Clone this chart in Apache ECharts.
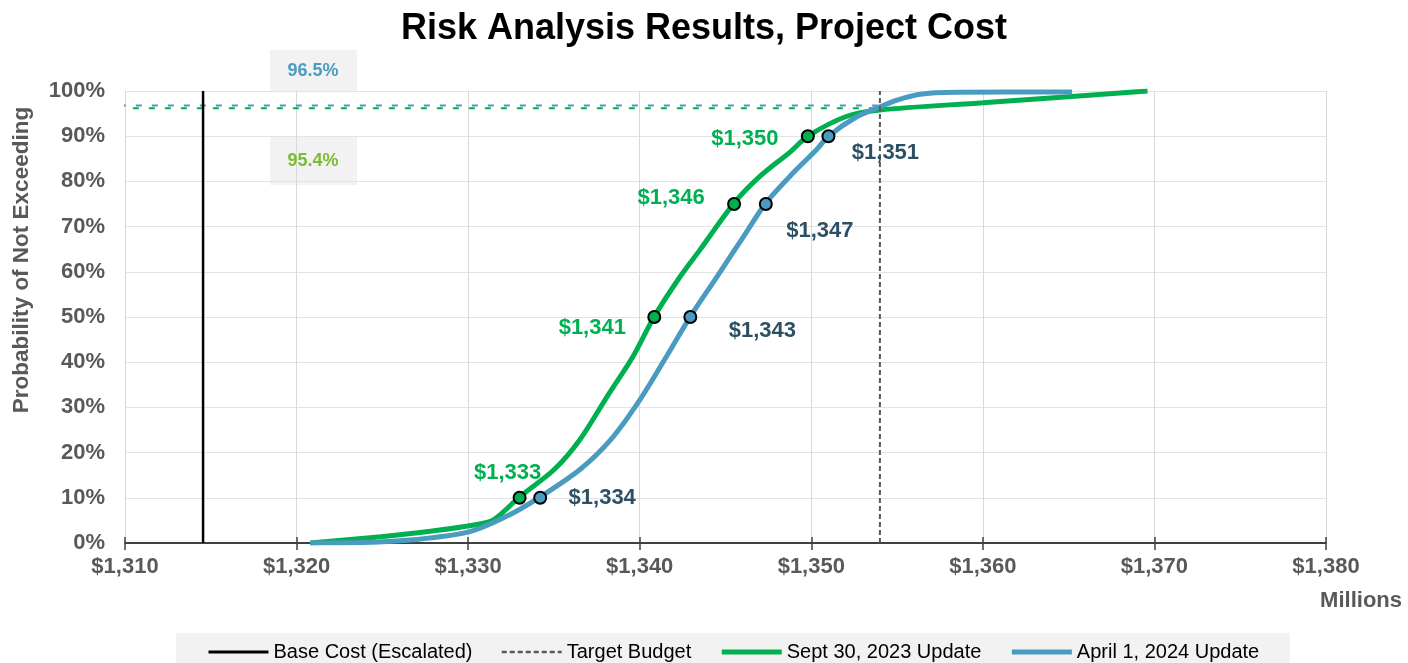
<!DOCTYPE html>
<html lang="en">
<head>
<meta charset="utf-8">
<title>Risk Analysis Results, Project Cost</title>
<script src="https://cdn.jsdelivr.net/npm/echarts@6/dist/echarts.min.js"></script>
<style>
  html, body { margin: 0; padding: 0; background: #fff; }
  #chart { width: 1408px; height: 663px; }
</style>
</head>
<body>
<div id="chart"></div>
<script>
// ---- data ----
var xTicks = [1310, 1320, 1330, 1340, 1350, 1360, 1370, 1380];

var baseCost = 1314.55;
var baseCostLabel = '$1,314';
var targetBudget = 1354;
var targetLabel = '$1,354';

// Sept 30, 2023 update (green)
var septCost = [1320.8, 1324.9, 1327.8, 1330.5, 1331.5, 1333.0, 1335.0, 1336.5, 1338.1, 1339.6,
                1340.85, 1342.35, 1343.5, 1345.5, 1347.0, 1348.8, 1349.8, 1352.0, 1354.0, 1360.0, 1369.6];
var septProb = [0, 1.4, 2.6, 4.1, 5.2, 10.2, 16.2, 22.8, 32.4, 41.2,
                50.1, 58.9, 64.8, 75.2, 81.1, 86.6, 90.0, 94.3, 95.8, 97.4, 100];

// April 1, 2024 update (blue)
var aprCost = [1320.8, 1323.9, 1326.8, 1330.1, 1332.4, 1334.2, 1336.5, 1338.3, 1340.0, 1341.55, 1342.95,
               1344.5, 1346.05, 1347.35, 1348.95, 1350.3, 1351.0, 1352.65, 1354.0, 1355.0, 1356.35, 1358.5, 1365.2];
var aprProb = [0, 0.1, 0.7, 2.5, 6.2, 10.2, 16.2, 22.8, 31.6, 41.2, 50.1,
               58.9, 67.8, 75.2, 81.9, 87.0, 90.0, 94.3, 96.5, 98.0, 99.3, 99.7, 99.8];

// percentile markers
var markerProb = [10, 50, 75, 90];
var septMarkCost = [1333.0, 1340.85, 1345.5, 1349.8];
var septMarkLabel = ['$1,333', '$1,341', '$1,346', '$1,350'];
var aprMarkCost = [1334.2, 1342.95, 1347.35, 1351.0];
var aprMarkLabel = ['$1,334', '$1,343', '$1,347', '$1,351'];

// probability at target budget
var aprAtTarget = 96.8, aprAtTargetText = '96.5%';
var septAtTarget = 96.2, septAtTargetText = '95.4%';

// ---- layout (label offsets in px) ----
var septLabelOffsets = [[-12, -25], [-62, 11], [-63, -6], [-63, 3]];
var aprLabelOffsets = [[62, 0], [72, 14], [54, 27], [57, 17]];

var GREEN = '#00b050';
var BLUE = '#4a9bc0';
var FONT = '"Liberation Sans", Arial, sans-serif';
var CLEAR = 'rgba(0,0,0,0)';

function pairs(xs, ys) {
  return xs.map(function (x, i) { return [x, ys[i]]; });
}
function money(v) {
  return '$' + String(v).replace(/\B(?=(\d{3})+(?!\d))/g, ',');
}
function markerData(costs, labels, offsets) {
  return costs.map(function (c, i) {
    return {
      value: [c, markerProb[i]],
      label: { formatter: labels[i], offset: offsets[i] }
    };
  });
}

var chart = echarts.init(document.getElementById('chart'));

chart.setOption({
  animation: false,
  textStyle: { fontFamily: FONT },
  title: {
    text: 'Risk Analysis Results, Project Cost',
    left: 'center',
    top: 6,
    textStyle: { fontSize: 36, fontWeight: 'bold', color: '#000', fontFamily: FONT }
  },
  grid: { left: 125, right: 82, top: 91, bottom: 120, outerBoundsMode: 'none', containLabel: false },
  legend: {
    data: [
      { name: 'Base Cost (Escalated)', lineStyle: { width: 3 } },
      { name: 'Target Budget', lineStyle: { width: 2.5 } },
      { name: 'Sept 30, 2023 Update', lineStyle: { width: 5 } },
      { name: 'April 1, 2024 Update', lineStyle: { width: 5 } }
    ],
    left: 202,
    top: 637,
    itemWidth: 60,
    itemHeight: 14,
    itemGap: 28,
    itemStyle: { color: CLEAR, borderColor: CLEAR, borderWidth: 0 },
    textStyle: { fontSize: 20, color: '#000', fontFamily: FONT }
  },
  xAxis: [{
    type: 'value',
    min: xTicks[0],
    max: xTicks[xTicks.length - 1],
    interval: 10,
    axisLine: { onZero: false, lineStyle: { color: '#404040', width: 2 } },
    axisTick: { show: true, length: 7, lineStyle: { color: '#404040', width: 1.5 } },
    axisLabel: {
      formatter: money, margin: 13,
      fontSize: 22, fontWeight: 'bold', color: '#595959', fontFamily: FONT
    },
    splitLine: { show: true, lineStyle: { color: '#d9d9d9', width: 1 } }
  }, {
    type: 'value',
    position: 'bottom',
    min: xTicks[0],
    max: xTicks[xTicks.length - 1],
    interval: 10,
    axisLine: { show: false, onZero: false },
    axisTick: { show: true, inside: true, length: 6, lineStyle: { color: '#404040', width: 1.5 } },
    axisLabel: { show: false },
    splitLine: { show: false }
  }],
  yAxis: {
    type: 'value',
    min: 0,
    max: 100,
    interval: 10,
    axisLine: { show: false },
    axisTick: { show: false },
    axisLabel: {
      formatter: '{value}%', margin: 20,
      fontSize: 22, fontWeight: 'bold', color: '#595959', fontFamily: FONT
    },
    splitLine: { lineStyle: { color: '#e3e3e3', width: 1 } }
  },
  series: [
    {
      name: 'Base Cost (Escalated)',
      type: 'line',
      symbol: 'none',
      z: 3,
      lineStyle: { color: '#000', width: 2.5 },
      itemStyle: { color: '#000' },
      data: [[baseCost, 0], {
        value: [baseCost, 100],
        label: {
          show: true, position: 'top', distance: 7, formatter: baseCostLabel,
          fontSize: 22, fontWeight: 'bold', color: '#404040', fontFamily: FONT
        }
      }]
    },
    {
      name: 'Target Budget',
      type: 'line',
      symbol: 'none',
      z: 6,
      lineStyle: { color: '#595959', width: 2, type: [5, 3] },
      itemStyle: { color: '#595959' },
      data: [[targetBudget, 0], {
        value: [targetBudget, 100],
        label: {
          show: true, position: 'top', distance: 7, formatter: targetLabel,
          fontSize: 22, fontWeight: 'bold', color: '#595959', fontFamily: FONT
        }
      }]
    },
    {
      name: 'aprTargetLine',
      type: 'line',
      symbol: 'none',
      z: 2,
      lineStyle: { color: BLUE, width: 2, type: [6, 10], dashOffset: 0 },
      data: [[xTicks[0] - 0.3, aprAtTarget], [targetBudget, aprAtTarget]]
    },
    {
      name: 'septTargetLine',
      type: 'line',
      symbol: 'none',
      z: 2,
      lineStyle: { color: GREEN, width: 2, type: [6, 10], dashOffset: 3 },
      data: [[xTicks[0] - 0.3, septAtTarget], [targetBudget, septAtTarget]]
    },
    {
      name: 'Sept 30, 2023 Update',
      type: 'line',
      symbol: 'none',
      smooth: 0.3,
      z: 4,
      lineStyle: { color: GREEN, width: 5 },
      itemStyle: { color: GREEN },
      data: pairs(septCost, septProb)
    },
    {
      name: 'April 1, 2024 Update',
      type: 'line',
      symbol: 'none',
      smooth: 0.3,
      z: 4,
      lineStyle: { color: BLUE, width: 5 },
      itemStyle: { color: BLUE },
      data: pairs(aprCost, aprProb)
    },
    {
      name: 'septMarkers',
      type: 'scatter',
      symbolSize: 12,
      z: 7,
      itemStyle: { color: GREEN, borderColor: '#000', borderWidth: 2, opacity: 1 },
      label: {
        show: true, position: 'inside',
        fontSize: 22, fontWeight: 'bold', color: GREEN, fontFamily: FONT
      },
      data: markerData(septMarkCost, septMarkLabel, septLabelOffsets)
    },
    {
      name: 'aprMarkers',
      type: 'scatter',
      symbolSize: 12,
      z: 7,
      itemStyle: { color: BLUE, borderColor: '#000', borderWidth: 2, opacity: 1 },
      label: {
        show: true, position: 'inside',
        fontSize: 22, fontWeight: 'bold', color: '#2c4f63', fontFamily: FONT
      },
      data: markerData(aprMarkCost, aprMarkLabel, aprLabelOffsets)
    }
  ],
  graphic: [
    { type: 'rect', shape: { x: 176, y: 633, width: 1114, height: 32 }, style: { fill: '#f2f2f2' }, z: -10 },
    { type: 'rect', shape: { x: 270, y: 50, width: 87, height: 42 }, style: { fill: '#f2f2f2' }, z: -10 },
    { type: 'rect', shape: { x: 270, y: 137, width: 87, height: 48 }, style: { fill: '#f2f2f2' }, z: -10 },
    {
      type: 'text', x: 313, y: 71, z: 10,
      style: { text: aprAtTargetText, fill: '#4b9cc1', font: 'bold 18px ' + FONT, textAlign: 'center', textVerticalAlign: 'middle' }
    },
    {
      type: 'text', x: 313, y: 161, z: 10,
      style: { text: septAtTargetText, fill: '#7dbb35', font: 'bold 18px ' + FONT, textAlign: 'center', textVerticalAlign: 'middle' }
    },
    {
      type: 'text', x: 22, y: 260, rotation: Math.PI / 2, z: 10,
      style: { text: 'Probability of Not Exceeding', fill: '#595959', font: 'bold 22.5px ' + FONT, textAlign: 'center', textVerticalAlign: 'middle' }
    },
    {
      type: 'text', x: 1402, y: 601, z: 10,
      style: { text: 'Millions', fill: '#595959', font: 'bold 22px ' + FONT, textAlign: 'right', textVerticalAlign: 'middle' }
    }
  ]
});
</script>
</body>
</html>
